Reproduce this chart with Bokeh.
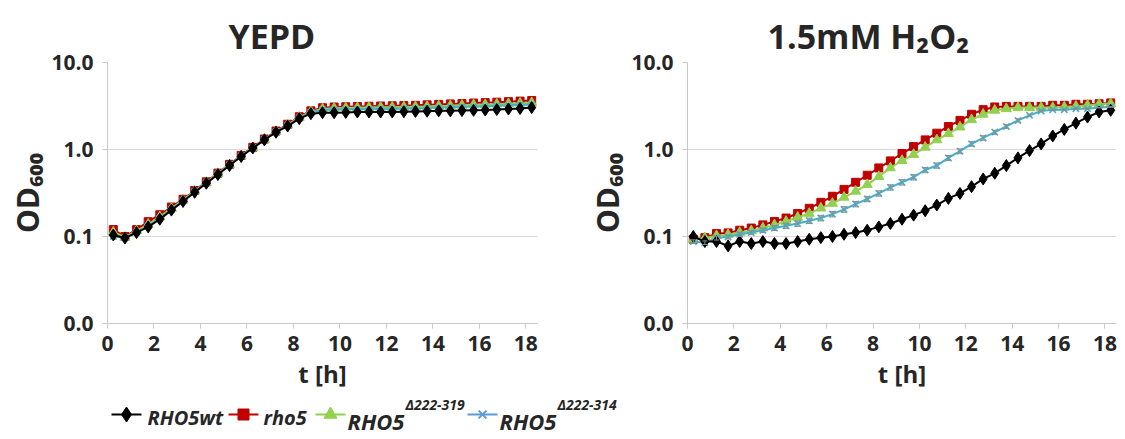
from bokeh.plotting import figure
from bokeh.layouts import column, row
from bokeh.models import (Range1d, FixedTicker, CustomJSTickFormatter,
                          ColumnDataSource, Whisker, TeeHead)
from bokeh.embed import file_html
from bokeh.resources import INLINE
from bokeh.core.properties import value

# ---------------- data ----------------
t_h = [0.25, 0.75, 1.25, 1.75, 2.25, 2.75, 3.25, 3.75, 4.25, 4.75, 5.25, 5.75,
       6.25, 6.75, 7.25, 7.75, 8.25, 8.75, 9.25, 9.75, 10.25, 10.75, 11.25,
       11.75, 12.25, 12.75, 13.25, 13.75, 14.25, 14.75, 15.25, 15.75, 16.25,
       16.75, 17.25, 17.75, 18.25]

# YEPD panel
yepd_RHO5wt = [0.104, 0.096, 0.111, 0.129, 0.158, 0.201, 0.253, 0.322, 0.409, 0.515,
               0.654, 0.830, 1.04, 1.29, 1.58, 1.86, 2.26, 2.58, 2.65, 2.65,
               2.67, 2.70, 2.70, 2.70, 2.70, 2.72, 2.74, 2.76, 2.78, 2.78,
               2.80, 2.82, 2.84, 2.88, 2.92, 2.96, 3.03]
yepd_rho5 = [0.120, 0.100, 0.120, 0.148, 0.178, 0.218, 0.268, 0.338, 0.425, 0.535,
             0.675, 0.855, 1.06, 1.32, 1.63, 1.95, 2.38, 2.78, 3.02, 3.08,
             3.10, 3.12, 3.14, 3.16, 3.18, 3.20, 3.22, 3.26, 3.30, 3.34,
             3.38, 3.42, 3.46, 3.50, 3.55, 3.60, 3.66]
yepd_d319 = [0.112, 0.098, 0.116, 0.138, 0.168, 0.210, 0.262, 0.332, 0.418, 0.528,
             0.668, 0.845, 1.05, 1.31, 1.61, 1.92, 2.34, 2.72, 2.92, 2.98,
             3.00, 3.02, 3.04, 3.05, 3.06, 3.08, 3.10, 3.12, 3.16, 3.18,
             3.22, 3.26, 3.28, 3.32, 3.36, 3.40, 3.45]
yepd_d314 = [0.100, 0.097, 0.112, 0.132, 0.162, 0.205, 0.258, 0.328, 0.414, 0.522,
             0.662, 0.840, 1.04, 1.30, 1.60, 1.90, 2.30, 2.68, 2.85, 2.88,
             2.90, 2.92, 2.93, 2.94, 2.95, 2.96, 2.98, 3.00, 3.03, 3.06,
             3.10, 3.12, 3.15, 3.18, 3.22, 3.26, 3.30]

# 1.5 mM H2O2 panel
h2o2_RHO5wt = [0.100, 0.0875, 0.0875, 0.078, 0.0875, 0.083, 0.0875, 0.083, 0.083, 0.0875,
               0.093, 0.097, 0.100, 0.106, 0.111, 0.118, 0.129, 0.141, 0.158, 0.176,
               0.198, 0.230, 0.274, 0.313, 0.374, 0.459, 0.533, 0.654, 0.801, 0.973,
               1.16, 1.43, 1.70, 2.01, 2.36, 2.70, 2.82]
h2o2_rho5 = [0.093, 0.097, 0.108, 0.110, 0.118, 0.125, 0.136, 0.149, 0.163, 0.184,
             0.211, 0.247, 0.290, 0.348, 0.420, 0.506, 0.614, 0.740, 0.899, 1.08,
             1.29, 1.54, 1.84, 2.16, 2.54, 2.87, 3.08, 3.13, 3.13, 3.13,
             3.13, 3.22, 3.22, 3.31, 3.31, 3.36, 3.43]
h2o2_d319 = [0.093, 0.096, 0.102, 0.105, 0.111, 0.116, 0.125, 0.136, 0.149, 0.166,
             0.184, 0.212, 0.240, 0.282, 0.331, 0.394, 0.488, 0.614, 0.747, 0.875,
             1.06, 1.29, 1.52, 1.81, 2.20, 2.54, 2.82, 2.94, 3.03, 3.03,
             3.03, 3.03, 3.08, 3.13, 3.22, 3.31, 3.36]
h2o2_d314 = [0.0875, 0.085, 0.096, 0.099, 0.106, 0.111, 0.118, 0.125, 0.133, 0.141,
             0.152, 0.163, 0.181, 0.205, 0.236, 0.270, 0.313, 0.367, 0.420, 0.480,
             0.582, 0.654, 0.801, 0.957, 1.16, 1.36, 1.58, 1.84, 2.16, 2.47,
             2.77, 2.87, 2.87, 2.94, 2.94, 3.03, 3.08]
h2o2_d314_sd = [0.004, 0.004, 0.005, 0.005, 0.006, 0.006, 0.007, 0.008, 0.009, 0.010,
                0.011, 0.012, 0.013, 0.015, 0.017, 0.019, 0.022, 0.026, 0.030, 0.034,
                0.040, 0.045, 0.052, 0.060, 0.070, 0.080, 0.085, 0.090, 0.090, 0.080,
                0.060, 0.040, 0.030, 0.030, 0.030, 0.030, 0.030]

x_ticks = [0, 2, 4, 6, 8, 10, 12, 14, 16, 18]
y_ticks = [0.01, 0.1, 1, 10]

panel_titles = ["YEPD", "1.5mM H\u2082O\u2082"]
y_label = "OD\u2086\u2080\u2080"
x_label = "t [h]"
series_names = ["RHO5wt", "rho5", "RHO5", "RHO5"]
series_sup = ["", "", "\u0394222-319", "\u0394222-314"]

# ---------------- styles ----------------
FONT = "Open Sans"
TXT = "#262626"
AX = "#C8C8C8"
GRID = "#D9D9D9"
C_WT, C_RHO, C_319, C_314 = "#000000", "#C00000", "#92D050", "#4BACC6"
C_314_LEG = "#5B9BD5"

PANEL_H = 395


def make_panel(width, bl, br, title, title_offset, series, sd=None):
    p = figure(width=width, height=PANEL_H, x_range=Range1d(0, 18.5),
               y_range=Range1d(0.01, 10), y_axis_type="log",
               output_backend="svg", toolbar_location=None,
               min_border_left=bl, min_border_right=br,
               min_border_top=62, min_border_bottom=PANEL_H - 62 - 261)
    p.outline_line_color = None
    p.background_fill_color = "white"
    p.border_fill_color = "white"

    p.title.text = title
    p.title.align = "left"
    p.title.offset = title_offset
    p.title.text_font = FONT
    p.title.text_font_style = "bold"
    p.title.text_font_size = "34px"
    p.title.text_color = TXT
    p.title.standoff = 8

    yt = FixedTicker(ticks=y_ticks)
    p.yaxis.ticker = yt
    p.ygrid.ticker = yt
    p.yaxis.formatter = CustomJSTickFormatter(code="return tick.toFixed(1);")
    p.xaxis.ticker = FixedTicker(ticks=x_ticks)
    p.xgrid.visible = False
    p.ygrid.grid_line_color = GRID
    p.ygrid.grid_line_width = 1

    for ax in (p.xaxis[0], p.yaxis[0]):
        ax.axis_line_color = AX
        ax.major_tick_line_color = AX
        ax.major_tick_out = 5
        ax.major_tick_in = 0
        ax.minor_tick_out = 0
        ax.minor_tick_in = 0
        ax.major_label_text_font = FONT
        ax.major_label_text_font_style = "bold"
        ax.major_label_text_font_size = "21px"
        ax.major_label_text_color = TXT
        ax.axis_label_text_font = FONT
        ax.axis_label_text_font_style = "bold"
        ax.axis_label_text_color = TXT
    p.yaxis.major_label_standoff = 9
    p.xaxis.major_label_standoff = 7
    p.yaxis.axis_label = y_label
    p.yaxis.axis_label_text_font_size = "30px"
    p.yaxis.axis_label_standoff = 0
    p.xaxis.axis_label = x_label
    p.xaxis.axis_label_text_font_size = "24px"
    p.xaxis.axis_label_standoff = 3

    wt, rh, d319, d314 = series
    src = ColumnDataSource(dict(t=t_h, wt=wt, rh=rh, d319=d319, d314=d314))

    p.line("t", "rh", source=src, line_color=C_RHO, line_width=2)
    p.scatter("t", "rh", source=src, marker="square", size=8,
              fill_color=C_RHO, line_color=C_RHO)
    p.line("t", "d319", source=src, line_color=C_319, line_width=2)
    p.scatter("t", "d319", source=src, marker="triangle", size=10,
              fill_color=C_319, line_color=C_319)
    if sd is not None:
        esrc = ColumnDataSource(dict(t=t_h,
                                     lo=[v - e for v, e in zip(d314, sd)],
                                     hi=[v + e for v, e in zip(d314, sd)]))
        w = Whisker(source=esrc, base="t", lower="lo", upper="hi",
                    line_color="#8C8C8C", line_width=1,
                    upper_head=TeeHead(size=5, line_color="#8C8C8C", line_width=1),
                    lower_head=TeeHead(size=5, line_color="#8C8C8C", line_width=1))
        w.level = "glyph"
        p.add_layout(w)
    p.line("t", "d314", source=src, line_color=C_314, line_width=2)
    p.scatter("t", "d314", source=src, marker="x", size=9,
              line_color=C_314, line_width=1.6)
    p.line("t", "wt", source=src, line_color=C_WT, line_width=2)
    p.scatter("t", "wt", source=src, marker="diamond", size=12,
              fill_color=C_WT, line_color=C_WT)
    return p


left = make_panel(580, 107, 43, panel_titles[0], 121,
                  (yepd_RHO5wt, yepd_rho5, yepd_d319, yepd_d314))
right = make_panel(545, 107, 9, panel_titles[1], 80,
                   (h2o2_RHO5wt, h2o2_rho5, h2o2_d319, h2o2_d314), sd=h2o2_d314_sd)

# ---------------- legend strip (page pixel coordinates) ----------------
lg = figure(width=1125, height=439 - PANEL_H, x_range=Range1d(0, 1125),
            y_range=Range1d(439, PANEL_H),
            output_backend="svg", toolbar_location=None,
            x_axis_type=None, y_axis_type=None, min_border=0)
lg.outline_line_color = None
lg.grid.visible = False

key_x = [126, 243, 330, 482]
key_y = 414
colors = [C_WT, C_RHO, C_319, C_314_LEG]
markers = ["diamond", "square", "triangle", "x"]
msizes = [15, 11, 13, 11]
for kx, c, m, s in zip(key_x, colors, markers, msizes):
    lg.line([kx - 15, kx + 15], [key_y, key_y], line_color=c, line_width=2)
    if m == "x":
        lg.scatter([kx], [key_y], marker=m, size=s, line_color=c, line_width=2)
    else:
        lg.scatter([kx], [key_y], marker=m, size=s, fill_color=c, line_color=c)

text_x = [147, 263, 347, 499]
lg.text(x=text_x[:2], y=[417, 417], text=series_names[:2],
        text_font=value(FONT), text_font_style="bold italic", text_font_size="20px",
        text_baseline="middle", text_color=TXT)
lg.text(x=text_x[2:], y=[420, 420], text=series_names[2:],
        text_font=value(FONT), text_font_style="bold italic", text_font_size="22px",
        text_baseline="middle", text_color=TXT)
lg.text(x=[tx + 58 for tx in text_x[2:]], y=[404, 404], text=series_sup[2:],
        text_font=value(FONT), text_font_style="bold italic", text_font_size="14px",
        text_baseline="middle", text_color=TXT)

layout = column(row(left, right), lg)
open("out.html", "w").write(file_html(layout, INLINE))
